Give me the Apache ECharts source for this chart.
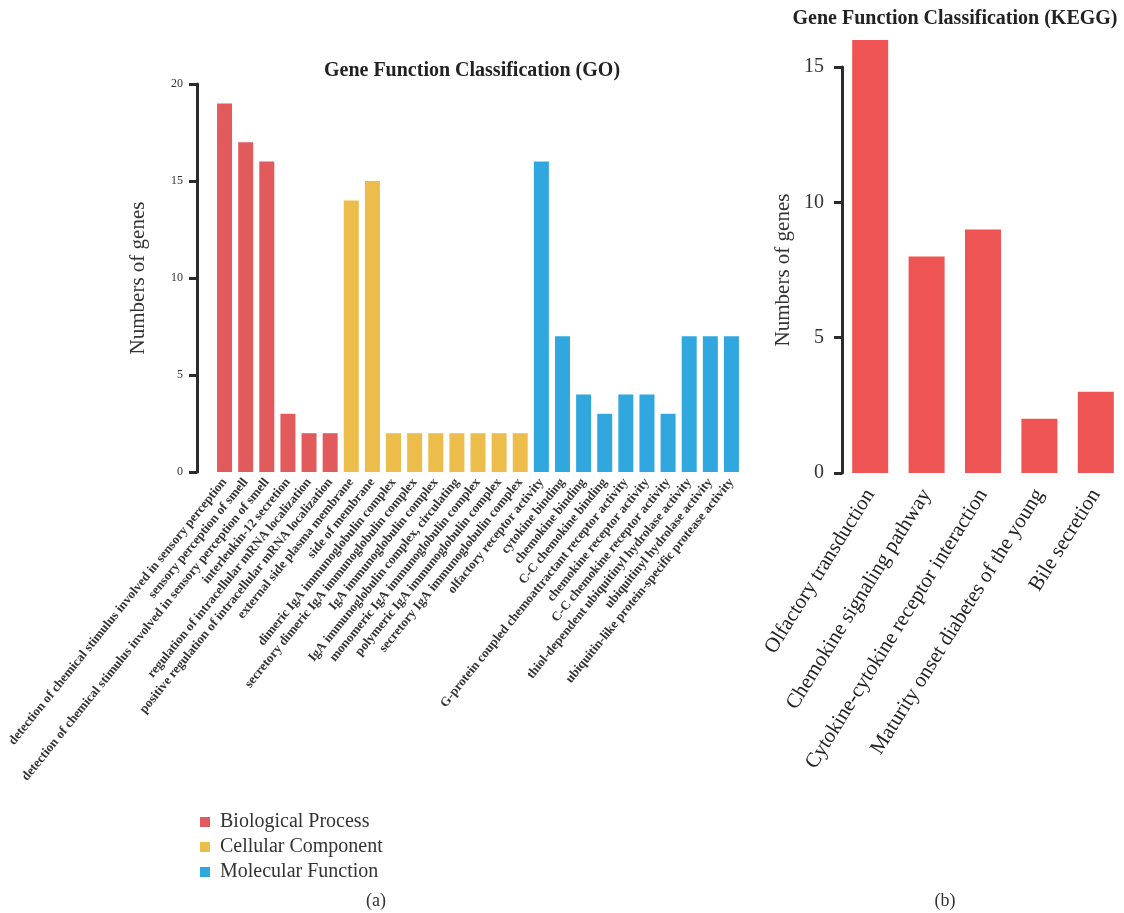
<!DOCTYPE html>
<html>
<head>
<meta charset="utf-8">
<script src="https://cdn.jsdelivr.net/npm/echarts@6/dist/echarts.min.js"></script>
<style>
  html, body { margin: 0; padding: 0; background: #fff; }
  #chart { width: 1124px; height: 913px; }
</style>
</head>
<body>
<div id="chart"></div>
<script>
// GO terms, grouped by ontology
const goTerms = [
    "detection of chemical stimulus involved in sensory perception",
    "sensory perception of smell",
    "detection of chemical stimulus involved in sensory perception of smell",
    "interleukin-12 secretion",
    "regulation of intracellular mRNA localization",
    "positive regulation of intracellular mRNA localization",
    "external side plasma membrane",
    "side of membrane",
    "dimeric IgA immunoglobulin complex",
    "secretory dimeric IgA immunoglobulin complex",
    "IgA immunoglobulin complex",
    "IgA immunoglobulin complex, circulating",
    "monomeric IgA immunoglobulin complex",
    "polymeric IgA immunoglobulin complex",
    "secretory IgA immunoglobulin complex",
    "olfactory receptor activity",
    "cytokine binding",
    "chemokine binding",
    "C-C chemokine binding",
    "G-protein coupled chemoattractant receptor activity",
    "chemokine receptor activity",
    "C-C chemokine receptor activity",
    "thiol-dependent ubiquitinyl hydrolase activity",
    "ubiquitinyl hydrolase activity",
    "ubiquitin-like protein-specific protease activity"
]
const bioProcess = [19, 17, 16, 3, 2, 2]
const cellComponent = [14, 15, 2, 2, 2, 2, 2, 2, 2]
const molFunction = [16, 7, 4, 3, 4, 4, 3, 7, 7, 7]
const goGroups = ["Biological Process", "Cellular Component", "Molecular Function"]
const goTicks = [0, 5, 10, 15, 20]

const keggTerms = [
    "Olfactory transduction",
    "Chemokine signaling pathway",
    "Cytokine-cytokine receptor interaction",
    "Maturity onset diabetes of the young",
    "Bile secretion"
]
const keggCounts = [16, 8, 9, 2, 3]
const keggTicks = [0, 5, 10, 15]

const serif = "'Liberation Serif', 'DejaVu Serif', serif"
const axisColor = "#2b2b2b"

// put each group's values on its own stretch of the category axis
function spread(values, start) {
    let out = goTerms.map(() => null)
    values.forEach((v, i) => { out[start + i] = v })
    return out
}

let chart = echarts.init(document.getElementById("chart"))

let yAxisStyle = function (ticks, fontSize, margin, nameGap) {
    return {
        type: "value",
        min: ticks[0],
        max: ticks[ticks.length - 1],
        interval: ticks[1] - ticks[0],
        name: "Numbers of genes",
        nameLocation: "middle",
        nameGap: nameGap,
        nameTextStyle: { fontFamily: serif, fontSize: 21, color: "#333" },
        axisLine: { show: true, lineStyle: { color: axisColor, width: 3 } },
        axisTick: { show: true, length: 8, lineStyle: { color: axisColor, width: 3 } },
        axisLabel: { fontFamily: serif, fontSize: fontSize, color: "#333", margin: margin },
        splitLine: { show: false }
    }
}

let option = {
    animation: false,
    backgroundColor: "#fff",
    title: [
        {
            text: "Gene Function Classification (GO)",
            left: 467, top: 56, textAlign: "center",
            textStyle: { fontFamily: serif, fontSize: 20, fontWeight: "bold", color: "#222" }
        },
        {
            text: "Gene Function Classification (KEGG)",
            left: 950, top: 4, textAlign: "center",
            textStyle: { fontFamily: serif, fontSize: 20, fontWeight: "bold", color: "#222" }
        },
        {
            text: "(a)",
            left: 371, top: 887, textAlign: "center",
            textStyle: { fontFamily: serif, fontSize: 18, fontWeight: "normal", color: "#333" }
        },
        {
            text: "(b)",
            left: 940, top: 887, textAlign: "center",
            textStyle: { fontFamily: serif, fontSize: 18, fontWeight: "normal", color: "#333" }
        }
    ],
    legend: {
        data: goGroups,
        orient: "vertical",
        left: 195,
        top: 807,
        itemWidth: 10,
        itemHeight: 10,
        itemGap: 5,
        icon: "rect",
        textStyle: { fontFamily: serif, fontSize: 20, color: "#333", padding: [0, 0, 0, 5] }
    },
    grid: [
        { left: 214, right: 382, top: 84, bottom: 441 },
        { left: 842, right: -8, top: 67, bottom: 440 }
    ],
    xAxis: [
        {
            type: "category",
            gridIndex: 0,
            data: goTerms,
            axisLine: { show: false },
            axisTick: { show: false },
            axisLabel: {
                interval: 0, rotate: 51, margin: 8,
                fontFamily: serif, fontSize: 13, fontWeight: "bold", color: "#333"
            }
        },
        {
            type: "category",
            gridIndex: 1,
            data: keggTerms,
            axisLine: { show: false },
            axisTick: { show: false },
            axisLabel: {
                interval: 0, rotate: 58, margin: 18,
                fontFamily: serif, fontSize: 21, color: "#222"
            }
        }
    ],
    yAxis: [
        Object.assign(yAxisStyle(goTicks, 12, 14, 48), { gridIndex: 0, offset: 17 }),
        Object.assign(yAxisStyle(keggTicks, 20, 18, 48), { gridIndex: 1 })
    ],
    series: [
        {
            name: goGroups[0], type: "bar", stack: "go",
            xAxisIndex: 0, yAxisIndex: 0, barWidth: 15,
            itemStyle: { color: "#E15B5C" },
            data: spread(bioProcess, 0)
        },
        {
            name: goGroups[1], type: "bar", stack: "go",
            xAxisIndex: 0, yAxisIndex: 0, barWidth: 15,
            itemStyle: { color: "#EDBD4C" },
            data: spread(cellComponent, bioProcess.length)
        },
        {
            name: goGroups[2], type: "bar", stack: "go",
            xAxisIndex: 0, yAxisIndex: 0, barWidth: 15,
            itemStyle: { color: "#30A7DF" },
            data: spread(molFunction, bioProcess.length + cellComponent.length)
        },
        {
            name: "KEGG", type: "bar",
            xAxisIndex: 1, yAxisIndex: 1, barWidth: 36,
            clip: false,
            itemStyle: { color: "#EE5453" },
            data: keggCounts
        }
    ]
}

chart.setOption(option)
</script>
</body>
</html>
